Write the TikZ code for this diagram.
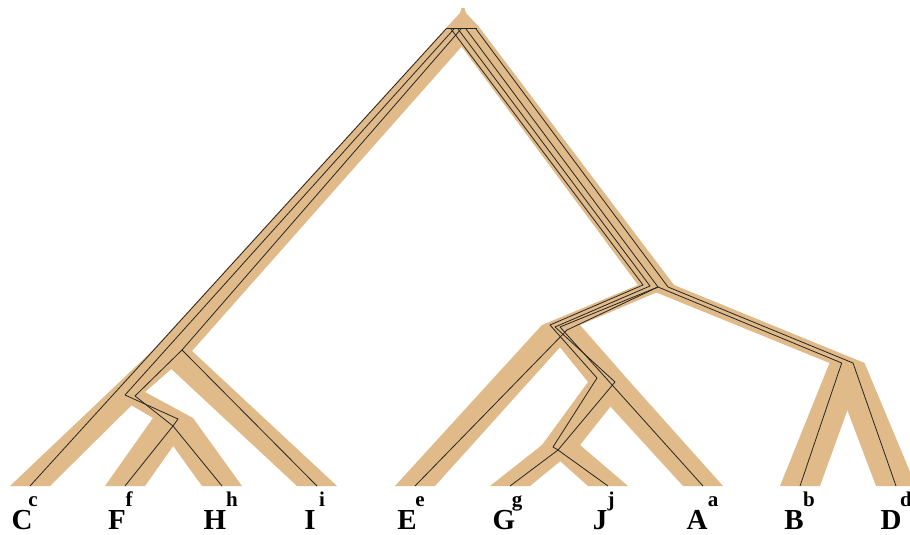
\documentclass[tikz,border=0pt]{standalone}
\usepackage{fontspec}
\setmainfont{Liberation Serif}
\definecolor{tubetan}{RGB}{224,186,136}
\newcommand{\tube}[6]{\fill[tubetan] ({#1-#3},#2) -- ({#1+#3},#2) -- ({#4+#6},#5) -- ({#4-#6},#5) -- cycle;}
\begin{document}
\begin{tikzpicture}[x=1pt,y=-1pt,
  gene/.style={draw=black!85,line width=0.8pt,line join=round},
  up/.style={font=\bfseries\fontsize{29}{29}\selectfont,anchor=base,inner sep=0pt},
  lo/.style={font=\bfseries\fontsize{21}{21}\selectfont,anchor=base,inner sep=0pt}]
\useasboundingbox (0,0) rectangle (910,535);
% cap
\fill[tubetan] (461.5,8) -- (464.5,8) -- (466,13) -- (479,27) -- (447,27) -- (460,13) -- cycle;
% species tubes
\tube{463}{27}{16}{172}{351}{20}
\tube{463}{27}{16}{656}{285}{18}
\tube{172}{351}{20}{127}{392}{18}
\tube{172}{351}{20}{317}{486}{20}
\tube{127}{392}{18}{30}{486}{20}
\tube{127}{392}{18}{173}{418}{20}
\tube{173}{418}{20}{125}{486}{20}
\tube{173}{418}{20}{222}{486}{20}
\tube{656}{285}{18}{561}{325}{19}
\tube{656}{285}{18}{847}{363}{17.5}
\tube{561}{325}{19}{415}{486}{20}
\tube{561}{325}{19}{609}{382}{21}
\tube{609}{382}{21}{561}{445}{19}
\tube{609}{382}{21}{703}{486}{20}
\tube{561}{445}{19}{510}{486}{20}
\tube{561}{445}{19}{608}{486}{20}
\tube{847}{363}{17.5}{800}{486}{20}
\tube{847}{363}{17.5}{896}{486}{20}
% gene lines
\coordinate (gFH) at (173,426);
\coordinate (gL) at (182,350);
\coordinate (gGJ) at (558,450);
\coordinate (gR) at (658,287);
\draw[gene] (446,28.5) -- (477,28.5);
\draw[gene] (446,29) -- (30,486);
\draw[gene] (454,29) -- (125,395) -- (178,419) -- (gFH);
\draw[gene] (461,29) -- (gL) -- (135,396) -- (gFH);
\draw[gene] (gL) -- (317,486);
\draw[gene] (gFH) -- (125,486);
\draw[gene] (gFH) -- (222,486);
\draw[gene] (451,29) -- (643,285) -- (550,325) -- (597,378) -- (553,447) -- (gGJ);
\draw[gene] (458,29) -- (650,286) -- (555,327) -- (615,382) -- (gGJ);
\draw[gene] (466,29) -- (gR) -- (560,327) -- (703,486);
\draw[gene] (gR) -- (567,330) -- (415,486);
\draw[gene] (gR) -- (841.7,363) -- (800,486);
\draw[gene] (476,29) -- (668,287) -- (853,363) -- (896,486);
\draw[gene] (gGJ) -- (510,486);
\draw[gene] (gGJ) -- (608,486);
% labels
\node[up] (lC) at (22,529) {C}; \node[lo] (lc) at (33,506) {c};
\node[up] (lF) at (117,529) {F}; \node[lo] (lf) at (129,506) {f};
\node[up] (lH) at (215,529) {H}; \node[lo] (lh) at (232,506) {h};
\node[up] (lI) at (310,529) {I}; \node[lo] (li) at (322,506) {i};
\node[up] (lE) at (407,529) {E}; \node[lo] (le) at (420,506) {e};
\node[up] (lG) at (504,529) {G}; \node[lo] (lg) at (517,506) {g};
\node[up] (lJ) at (600,529) {J}; \node[lo] (lj) at (611,506) {j};
\node[up] (lA) at (697,529) {A}; \node[lo] (la) at (713,506) {a};
\node[up] (lB) at (794,529) {B}; \node[lo] (lb) at (809,506) {b};
\node[up] (lD) at (891,529) {D}; \node[lo] (ld) at (906,506) {d};
\end{tikzpicture}
\end{document}
